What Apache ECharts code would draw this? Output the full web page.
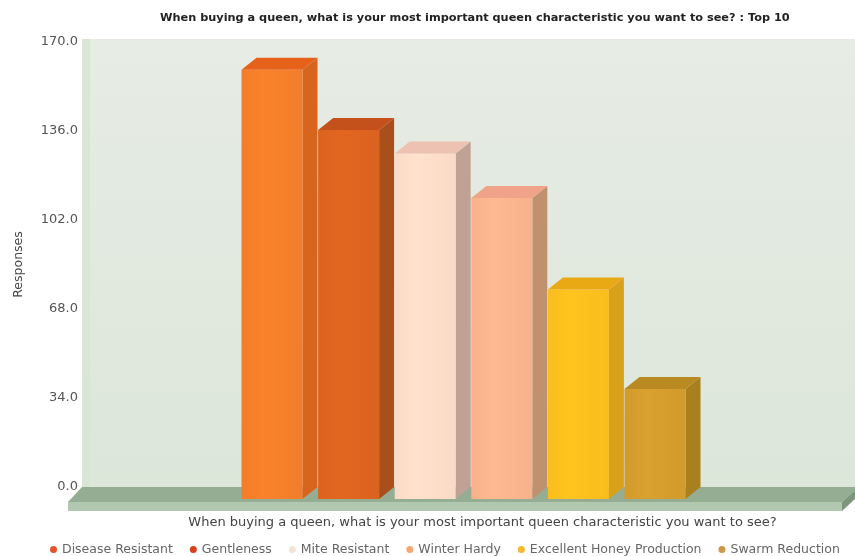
<!DOCTYPE html>
<html>
<head>
<meta charset="utf-8">
<script src="https://cdn.jsdelivr.net/npm/echarts@6/dist/echarts.min.js"></script>
<style>html,body{margin:0;padding:0;background:#fff}#c{width:855px;height:556px}</style>
</head>
<body>
<div id="c"></div>
<script>
// ---- data ----
const titleText = 'When buying a queen, what is your most important queen characteristic you want to see? : Top 10';
const xAxisName = 'When buying a queen, what is your most important queen characteristic you want to see?';
const yAxisName = 'Responses';
const categories = ['Top 10'];
const seriesNames = ['Disease Resistant', 'Gentleness', 'Mite Resistant', 'Winter Hardy', 'Excellent Honey Production', 'Swarm Reduction'];
const seriesValues = [164, 141, 132, 115, 80, 42];
const yMin = 0, yMax = 170, yStep = 34;

// ---- styles ----
const legendColors = ['#e8542a', '#d8401e', '#f6e2d6', '#f4a872', '#f8b830', '#c99a4a'];
const frontColors  = ['#f17d2a', '#da631f', '#f9dac6', '#f6b28c', '#f9bd1d', '#d19b2d'];
const sideColors   = ['#d8651d', '#a84f1c', '#bfa294', '#c0916f', '#d9a11a', '#a8801d'];
const topColors    = ['#e6621b', '#c4511b', '#eec2b2', '#efa48a', '#e8a915', '#b98a21'];
const DX = 15, DY = 12, SLOT = 76.6, FW = 61;
const font = 'DejaVu Sans';

const chart = echarts.init(document.getElementById('c'), null, {renderer: 'canvas'});

function renderBar(params, api) {
  const i = params.seriesIndex;
  const v = api.value(1);
  const base = api.coord([api.value(0), 0]);
  const top = api.coord([api.value(0), v]);
  const n = seriesNames.length;
  const groupW = (n - 1) * SLOT + FW;
  const fl = base[0] - groupW / 2 - 5 + i * SLOT;
  const yT = top[1] + DY, yB = base[1] + DY;
  const fc = frontColors[i];
  return {
    type: 'group',
    children: [
      {type: 'polygon', shape: {points: [[fl + FW, yT], [fl + FW + DX, top[1]], [fl + FW + DX, base[1]], [fl + FW, yB]]},
        style: {fill: sideColors[i]}},
      {type: 'rect', shape: {x: fl, y: yT, width: FW, height: yB - yT},
        style: {fill: new echarts.graphic.LinearGradient(0, 0, 1, 0, [
          {offset: 0, color: fc}, {offset: 0.35, color: echarts.color.lift(fc, -0.04)}, {offset: 1, color: fc}])}},
      {type: 'polygon', shape: {points: [[fl, yT], [fl + DX, top[1]], [fl + FW + DX, top[1]], [fl + FW, yT]]},
        style: {fill: topColors[i]}}
    ]
  };
}

const series = seriesNames.map((name, i) => ({
  name: name,
  type: 'custom',
  renderItem: renderBar,
  clip: false,
  z: 5,
  itemStyle: {color: legendColors[i]},
  encode: {x: 0, y: 1},
  data: [[0, seriesValues[i]]]
}));

const option = {
  animation: false,
  backgroundColor: '#ffffff',
  title: {
    text: titleText, left: 155, top: 8,
    textStyle: {fontFamily: font, fontSize: 11.3, fontWeight: 'bold', color: '#222'}
  },
  legend: {
    data: seriesNames, left: 45, top: 538, width: 840, icon: 'circle', itemWidth: 7, itemHeight: 7, itemGap: 17,
    textStyle: {fontFamily: font, fontSize: 12.5, color: '#666'}
  },
  grid: {left: 82, right: 0, top: 42, bottom: 69, containLabel: false},
  graphic: [
    {type: 'rect', z: -10, shape: {x: 82, y: 39, width: 773, height: 450},
      style: {fill: new echarts.graphic.LinearGradient(0, 0, 0, 1, [
        {offset: 0, color: '#e7ece5'}, {offset: 1, color: '#dce6d9'}])}},
    {type: 'rect', z: -9, shape: {x: 82, y: 39, width: 8, height: 450}, style: {fill: '#d9e6d5'}},
    {type: 'polygon', z: 1, shape: {points: [[82, 487], [855, 487], [855, 490], [842, 502], [68, 502]]},
      style: {fill: '#95ad92'}},
    {type: 'polygon', z: 1, shape: {points: [[68, 502], [842, 502], [842, 511], [68, 511]]},
      style: {fill: '#b2c7b0'}},
    {type: 'polygon', z: 1, shape: {points: [[842, 502], [855, 490], [855, 499], [842, 511]]},
      style: {fill: '#7f967c'}}
  ],
  xAxis: {
    type: 'category', data: categories,
    axisLine: {show: false}, axisTick: {show: false}, axisLabel: {show: false},
    name: xAxisName, nameLocation: 'middle', nameGap: 29,
    nameTextStyle: {fontFamily: font, fontSize: 13, color: '#444', padding: [0, 0, 0, 28]}
  },
  yAxis: {
    type: 'value', min: yMin, max: yMax, interval: yStep,
    axisLine: {show: false}, axisTick: {show: false}, splitLine: {show: false},
    axisLabel: {formatter: v => v.toFixed(1), fontFamily: font, fontSize: 13, color: '#555', margin: 4},
    name: yAxisName, nameLocation: 'middle', nameRotate: 90, nameGap: 57,
    nameTextStyle: {fontFamily: font, fontSize: 12.5, color: '#444'}
  },
  series: series
};
chart.setOption(option);
</script>
</body>
</html>
